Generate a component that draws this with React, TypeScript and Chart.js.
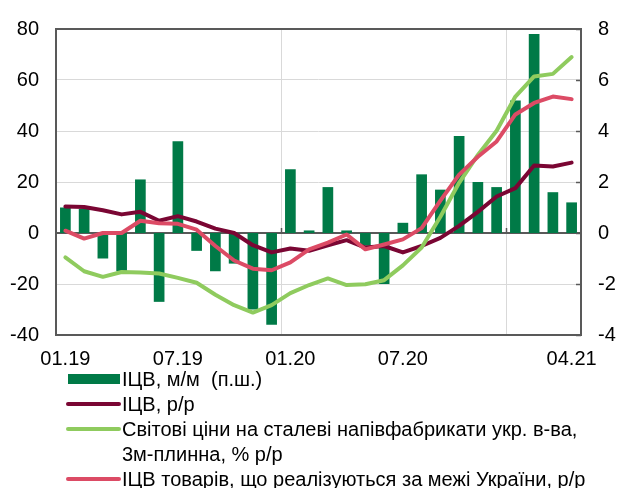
import React, { useEffect, useRef } from "react";
import { Chart, registerables } from "chart.js";

Chart.register(...registerables);

const months = [
  "01.19", "02.19", "03.19", "04.19", "05.19", "06.19", "07.19", "08.19", "09.19", "10.19", "11.19", "12.19",
  "01.20", "02.20", "03.20", "04.20", "05.20", "06.20", "07.20", "08.20", "09.20", "10.20", "11.20", "12.20",
  "01.21", "02.21", "03.21", "04.21",
];
const shownTickLabels = ["01.19", "07.19", "01.20", "07.20", "04.21"];
const yearStartLabels = ["01.20", "01.21"];

// ІЦВ, м/м (right axis)
const cpiMoM = [1.0, 0.95, -1.0, -1.5, 2.1, -2.7, 3.6, -0.7, -1.5, -1.2, -3.0, -3.6, 2.5, 0.1, 1.8, 0.1, -0.5, -2.0, 0.4, 2.3, 1.7, 3.8, 2.0, 1.8, 5.2, 7.8, 1.6, 1.2];
// ІЦВ, р/р (left axis)
const cpiYoY = [10.4, 10.2, 8.9, 7.3, 8.3, 4.8, 6.6, 4.5, 1.7, 0.0, -4.8, -7.6, -6.1, -7.0, -4.8, -2.8, -5.7, -5.1, -7.6, -5.1, -1.9, 2.8, 8.3, 14.3, 17.6, 26.5, 26.1, 27.6];
// Світові ціни на сталеві напівфабрикати
const steelPrices = [-9.6, -15.0, -17.2, -15.3, -15.5, -15.9, -17.6, -19.5, -24.2, -28.3, -31.2, -28.3, -23.6, -20.4, -17.8, -20.4, -20.1, -18.5, -12.7, -5.7, 6.4, 19.7, 30.6, 40.1, 53.5, 61.4, 62.4, 69.0];
// ІЦВ товарів, що реалізуються за межі України
const exportCpi = [0.9, -2.2, 0.0, 0.0, 4.8, 3.8, 3.6, 1.3, -5.1, -10.8, -14.0, -14.6, -11.5, -6.4, -3.8, -0.6, -6.4, -4.5, -2.5, 1.9, 12.7, 22.9, 29.9, 35.9, 46.5, 51.0, 53.5, 52.5];

const leftRange = { min: -40, max: 80, step: 20 };
const rightRange = { min: -4, max: 8, step: 2 };

const legendLabels = [
  "ІЦВ, м/м  (п.ш.)",
  "ІЦВ, р/р",
  "Світові ціни на сталеві напівфабрикати укр. в-ва,\n3м-плинна, % р/р",
  "ІЦВ товарів, що реалізуються за межі України, р/р",
];

const C_BAR = "#007a47";
const C_DARK = "#7a0633";
const C_GREEN = "#8fcb5e";
const C_PINK = "#dc4b65";
const C_FRAME = "#595959";
const C_GRID = "#d9d9d9";
const FONT = "'Liberation Sans', Arial, sans-serif";

const framePlugin = {
  id: "frame",
  afterDatasetsDraw(chart: any) {
    const { ctx, chartArea } = chart;
    const { left, right, top, bottom } = chartArea;
    ctx.save();
    ctx.strokeStyle = C_FRAME;
    ctx.lineWidth = 2;
    ctx.strokeRect(left, top, right - left, bottom - top);
    // inward tick marks on right axis
    const y2 = chart.scales.y2;
    ctx.lineWidth = 1.5;
    y2.ticks.forEach((t: any) => {
      const py = Math.round(y2.getPixelForValue(t.value)) + 0.5;
      ctx.beginPath();
      ctx.moveTo(right - 5, py);
      ctx.lineTo(right, py);
      ctx.stroke();
    });
    // small tick marks on zero line at year boundaries
    const x = chart.scales.x;
    const y0 = chart.scales.y.getPixelForValue(0);
    yearStartLabels.forEach((lab) => {
      const i = months.indexOf(lab);
      const px = Math.round((x.getPixelForValue(i) + x.getPixelForValue(i - 1)) / 2) + 0.5;
      ctx.beginPath();
      ctx.moveTo(px, y0);
      ctx.lineTo(px, y0 - 5);
      ctx.stroke();
    });
    ctx.restore();
  },
};

export default function App() {
  const ref = useRef<HTMLCanvasElement | null>(null);

  useEffect(() => {
    document.body.style.margin = "0";
    const canvas = ref.current;
    if (!canvas) return;
    const font = { family: FONT, size: 20 };
    const lineDs = (label: string, data: number[], color: string, order: number) => ({
      type: "line" as const,
      label,
      data,
      yAxisID: "y",
      borderColor: color,
      backgroundColor: color,
      borderWidth: 4,
      pointRadius: 0,
      tension: 0,
      borderJoinStyle: "round" as const,
      borderCapStyle: "round" as const,
      order,
    });
    const chart = new Chart(canvas, {
      type: "bar",
      data: {
        labels: months,
        datasets: [
          {
            type: "bar",
            label: legendLabels[0],
            data: cpiMoM,
            yAxisID: "y2",
            backgroundColor: C_BAR,
            categoryPercentage: 1,
            barPercentage: 0.57,
            order: 4,
          } as any,
          lineDs(legendLabels[1], cpiYoY, C_DARK, 3),
          lineDs(legendLabels[2], steelPrices, C_GREEN, 2),
          lineDs(legendLabels[3], exportCpi, C_PINK, 1),
        ],
      },
      options: {
        responsive: false,
        animation: false,
        devicePixelRatio: 1,
        layout: { padding: { top: 21, left: 0, right: 0, bottom: 0 } },
        plugins: { legend: { display: false }, tooltip: { enabled: false } },
        scales: {
          x: {
            type: "category",
            offset: true,
            grid: {
              offset: true,
              drawTicks: false,
              color: (c: any) => {
                const i = c.index;
                return yearStartLabels.includes(months[i]) ? C_GRID : "rgba(0,0,0,0)";
              },
              lineWidth: 1,
            },
            border: { display: false },
            ticks: {
              autoSkip: false,
              maxRotation: 0,
              minRotation: 0,
              padding: 12,
              color: "#000",
              font,
              callback: (_v: any, i: number) => (shownTickLabels.includes(months[i]) ? months[i] : ""),
            },
            afterFit: (s: any) => {
              s.height = 40;
            },
          },
          y: {
            position: "left",
            min: leftRange.min,
            max: leftRange.max,
            ticks: { stepSize: leftRange.step, padding: 17, color: "#000", font },
            grid: {
              drawTicks: false,
              color: (c: any) => (c.tick && c.tick.value === 0 ? C_FRAME : C_GRID),
              lineWidth: (c: any) => (c.tick && c.tick.value === 0 ? 2 : 1),
            },
            border: { display: false },
            afterFit: (s: any) => {
              s.width = 56;
            },
          },
          y2: {
            position: "right",
            min: rightRange.min,
            max: rightRange.max,
            ticks: { stepSize: rightRange.step, padding: 17, color: "#000", font },
            grid: { display: false, drawTicks: false },
            border: { display: false },
            afterFit: (s: any) => {
              s.width = 39;
            },
          },
        },
      } as any,
      plugins: [framePlugin],
    });
    return () => chart.destroy();
  }, []);

  const rows = [
    { center: 379, color: C_BAR, bar: true, text: legendLabels[0] },
    { center: 404, color: C_DARK, bar: false, text: legendLabels[1] },
    { center: 429, color: C_GREEN, bar: false, text: legendLabels[2] },
    { center: 479, color: C_PINK, bar: false, text: legendLabels[3] },
  ];

  return (
    <div style={{ position: "relative", width: 620, height: 488, overflow: "hidden", fontFamily: FONT, background: "#fff" }}>
      <canvas ref={ref} width={620} height={375} style={{ display: "block", width: 620, height: 375 }} />
      {rows.map((r, i) => (
        <React.Fragment key={i}>
          {r.bar ? (
            <div style={{ position: "absolute", left: 68, top: r.center - 5, width: 52, height: 10, background: r.color }} />
          ) : (
            <div style={{ position: "absolute", left: 66, top: r.center - 2, width: 55, height: 4, borderRadius: 2, background: r.color }} />
          )}
          <div
            style={{
              position: "absolute",
              left: 122,
              top: r.center - 12.5,
              fontSize: 20,
              lineHeight: "25px",
              whiteSpace: "pre",
              color: "#000",
            }}
          >
            {r.text}
          </div>
        </React.Fragment>
      ))}
    </div>
  );
}
